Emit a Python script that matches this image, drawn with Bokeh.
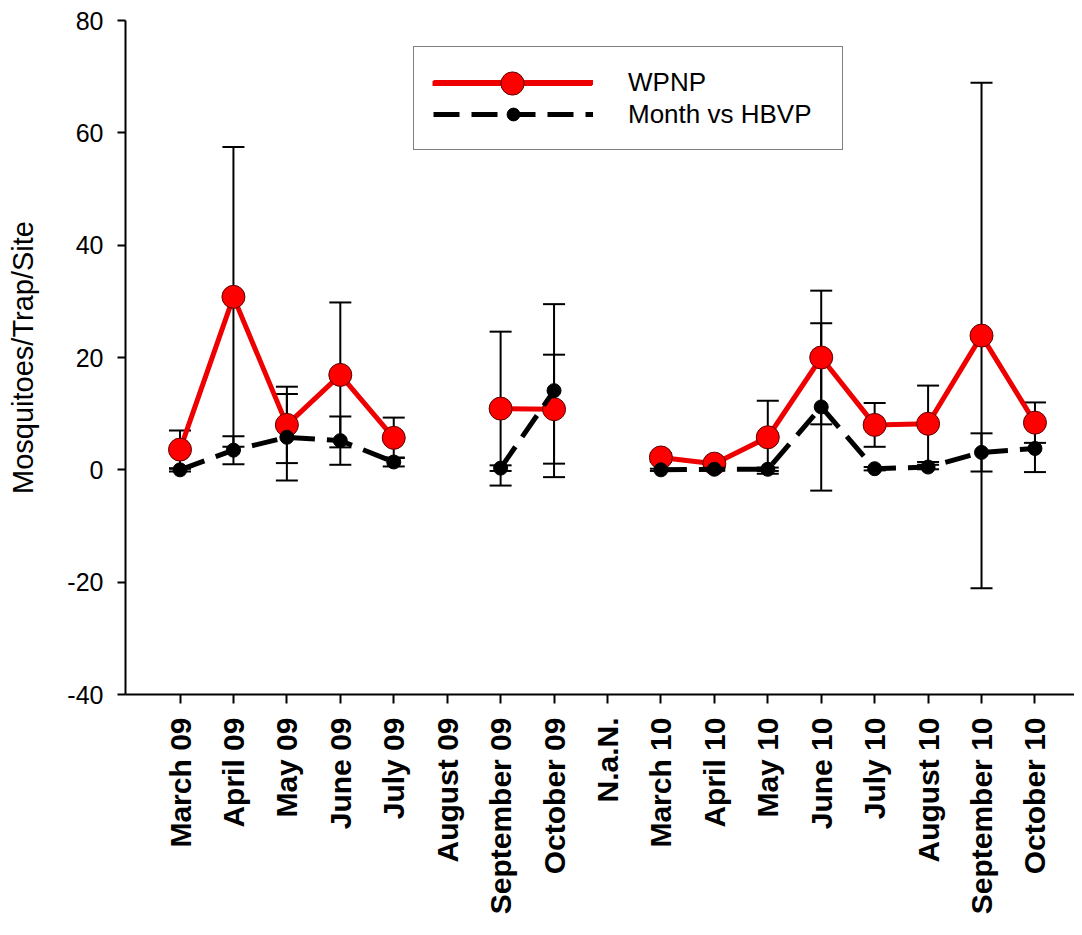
import math
from bokeh.plotting import figure
from bokeh.models import (ColumnDataSource, Whisker, TeeHead, FixedTicker,
                          Legend, LegendItem, Range1d)
from bokeh.embed import file_html
from bokeh.resources import INLINE

nan = float("nan")

months = ["March 09", "April 09", "May 09", "June 09", "July 09", "August 09",
          "September 09", "October 09", "N.a.N.", "March 10", "April 10",
          "May 10", "June 10", "July 10", "August 10", "September 10",
          "October 10"]

wpnp = [3.6, 30.8, 8.0, 16.9, 5.7, nan, 10.9, 10.8, nan,
        2.2, 1.1, 5.8, 20.0, 8.0, 8.2, 23.9, 8.4]
wpnp_err = [3.4, 26.7, 6.8, 12.9, 3.6, nan, 13.7, 9.7, nan,
            0.8, 0.5, 6.5, 11.9, 3.9, 6.8, 45.0, 3.6]

hbvp = [0.0, 3.5, 5.8, 5.2, 1.4, nan, 0.3, 14.1, nan,
        0.0, 0.1, 0.1, 11.2, 0.2, 0.5, 3.1, 3.8]
hbvp_err = [0.3, 2.5, 7.7, 4.3, 0.8, nan, 0.5, 15.4, nan,
            0.2, 0.2, 0.3, 14.9, 0.3, 0.4, 3.4, 4.2]

yticks = [-40, -20, 0, 20, 40, 60, 80]
ytick_labels = ["-40", "-20", "0", "20", "40", "60", "80"]

FONT = "Liberation Sans"

x = list(range(1, len(months) + 1))

src_w = ColumnDataSource(dict(x=x, y=wpnp))
src_h = ColumnDataSource(dict(x=x, y=hbvp))


def err_source(vals, errs):
    xs, lo, up = [], [], []
    for xi, v, e in zip(x, vals, errs):
        if not (math.isnan(v) or math.isnan(e)):
            xs.append(xi)
            lo.append(v - e)
            up.append(v + e)
    return ColumnDataSource(dict(x=xs, lower=lo, upper=up))


p = figure(width=1074, height=930, output_backend="svg", toolbar_location=None,
           x_range=Range1d(-0.02, 17.74), y_range=Range1d(-40, 80),
           min_border_left=125, min_border_top=20, min_border_right=0,
           min_border_bottom=236)
p.outline_line_color = None
p.xgrid.grid_line_color = None
p.ygrid.grid_line_color = None
p.background_fill_color = "white"

# error bars (behind markers)
for s in (err_source(wpnp, wpnp_err), err_source(hbvp, hbvp_err)):
    w = Whisker(base="x", lower="lower", upper="upper", source=s,
                line_width=2, line_color="black", level="underlay",
                upper_head=TeeHead(size=22, line_width=2, line_color="black"),
                lower_head=TeeHead(size=22, line_width=2, line_color="black"))
    p.add_layout(w)

rl = p.line("x", "y", source=src_w, line_color="#ee0000", line_width=5)
rs = p.scatter("x", "y", source=src_w, size=23, fill_color="#ff0000",
               line_color="#5a0000", line_width=1)
bl = p.line("x", "y", source=src_h, line_color="black", line_width=5,
            line_dash="26 12")
bs = p.scatter("x", "y", source=src_h, size=14, fill_color="black",
               line_color="black")

legend = Legend(items=[LegendItem(label="WPNP", renderers=[rl, rs]),
                       LegendItem(label="Month vs HBVP", renderers=[bl, bs])],
                location=(288, 544))
legend.label_text_font = FONT
legend.label_text_font_size = "26px"
legend.label_text_color = "black"
legend.glyph_width = 160
legend.glyph_height = 32
legend.label_height = 32
legend.label_width = 195
legend.label_standoff = 35
legend.spacing = 0
legend.padding = 19
legend.margin = 0
legend.border_line_color = "black"
legend.border_line_width = 1.5
legend.background_fill_color = "white"
legend.background_fill_alpha = 1.0
p.add_layout(legend)

# overlay legend: draws the larger WPNP symbol over the first entry
big = Legend(items=[LegendItem(label=" ", renderers=[rl, rs])],
             location=(307, 582))
big.glyph_width = 160
big.glyph_height = 58
big.label_height = 58
big.label_width = 1
big.label_standoff = 0
big.label_text_alpha = 0
big.label_text_font_size = "1px"
big.padding = 0
big.margin = 0
big.spacing = 0
big.border_line_color = None
big.background_fill_alpha = 0
p.add_layout(big)

# x axis
p.xaxis.ticker = FixedTicker(ticks=x)
p.xaxis.major_label_overrides = {xi: m for xi, m in zip(x, months)}
p.xaxis.major_label_orientation = math.pi / 2
p.xaxis.major_label_text_font = FONT
p.xaxis.major_label_text_font_size = "30px"
p.xaxis.major_label_text_font_style = "bold"
p.xaxis.major_label_text_color = "black"
p.xaxis.major_label_standoff = 14
p.xaxis.axis_line_width = 2
p.xaxis.axis_line_color = "black"
p.xaxis.major_tick_line_width = 2
p.xaxis.major_tick_line_color = "black"
p.xaxis.major_tick_out = 9
p.xaxis.major_tick_in = 0
p.xaxis.minor_tick_line_color = None

# y axis
p.yaxis.ticker = FixedTicker(ticks=yticks)
p.yaxis.major_label_overrides = {t: s for t, s in zip(yticks, ytick_labels)}
p.yaxis.axis_label = "Mosquitoes/Trap/Site"
p.yaxis.axis_label_text_font = FONT
p.yaxis.axis_label_text_font_size = "29px"
p.yaxis.axis_label_text_font_style = "normal"
p.yaxis.axis_label_text_color = "black"
p.yaxis.axis_label_standoff = 25
p.yaxis.major_label_text_font = FONT
p.yaxis.major_label_text_font_size = "25px"
p.yaxis.major_label_text_color = "black"
p.yaxis.major_label_standoff = 14
p.yaxis.axis_line_width = 2
p.yaxis.axis_line_color = "black"
p.yaxis.major_tick_line_width = 2
p.yaxis.major_tick_line_color = "black"
p.yaxis.major_tick_out = 8
p.yaxis.major_tick_in = 0
p.yaxis.minor_tick_line_color = None

open("out.html", "w").write(file_html(p, INLINE))
